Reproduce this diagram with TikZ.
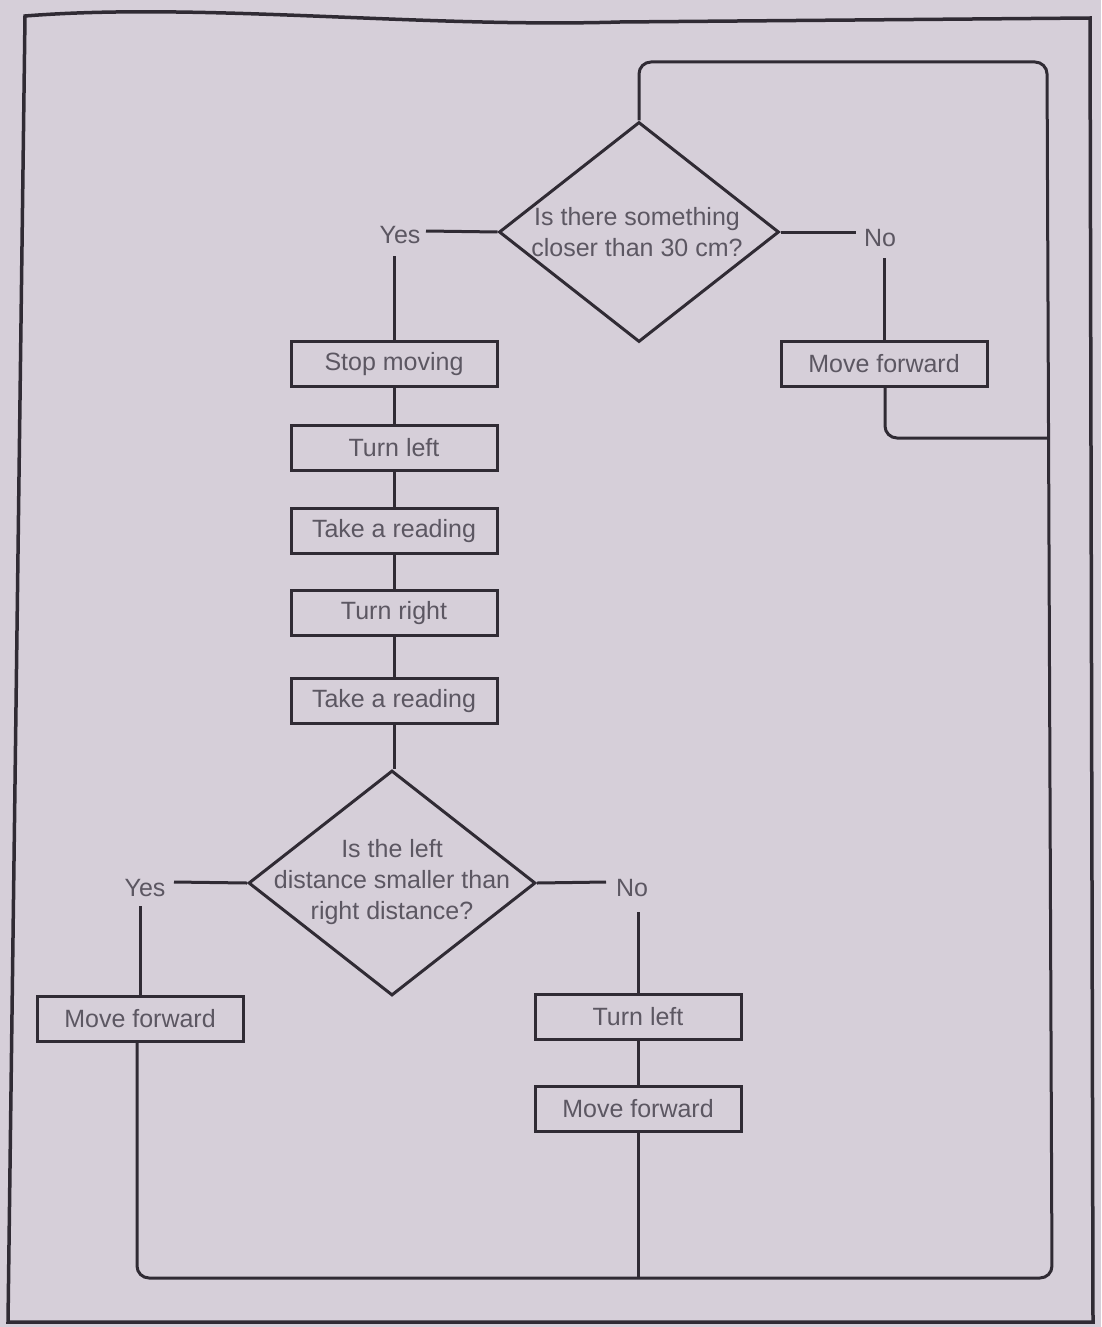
\documentclass[tikz,border=0pt]{standalone}
\usepackage{fontspec}
\setmainfont{Liberation Sans}
\usetikzlibrary{shapes.geometric}
\definecolor{paper}{RGB}{214,207,217}
\definecolor{ink}{RGB}{48,43,52}
\definecolor{txt}{RGB}{92,87,98}
\tikzset{
  ln/.style={draw=ink, line width=3pt},
  stepbox/.style={draw=ink, line width=3pt, rectangle, minimum width=206pt, minimum height=45pt, inner sep=0pt, text=txt, font=\fontsize{25}{30}\selectfont},
  decide/.style={draw=ink, line width=3pt, diamond, inner sep=0pt},
  lbl/.style={text=txt, font=\fontsize{25}{31}\selectfont, align=center, inner sep=0pt},
}
\begin{document}
\begin{tikzpicture}[x=1pt,y=-1pt]
\useasboundingbox (0,0) rectangle (1101,1327);
\fill[paper] (0,0) rectangle (1101,1327);
% outer frame
\draw[draw=ink, line width=3.5pt] (25,16) .. controls (200,2) and (420,28) .. (620,22) -- (1090,18) -- (1093,1322) -- (8,1322) -- cycle;

% top decision
\node[decide, minimum width=280pt, minimum height=220pt] (d1) at (639,232) {};
\node[lbl] (d1t) at (637,232) {Is there something\\closer than 30 cm?};
\node[lbl] (y1) at (400,235) {Yes};
\node[lbl] (n1) at (880,238) {No};

% left column
\node[stepbox] (s1) at (394,364) {Stop moving};
\node[stepbox] (s2) at (394,448) {Turn left};
\node[stepbox] (s3) at (394,531) {Take a reading};
\node[stepbox] (s4) at (394,613) {Turn right};
\node[stepbox] (s5) at (394,701) {Take a reading};

% right branch
\node[stepbox] (r1) at (884,364) {Move forward};

% bottom decision
\node[decide, minimum width=287pt, minimum height=225pt] (d2) at (392,883) {};
\node[lbl] (d2t) at (392,882) {Is the left\\distance smaller than\\right distance?};
\node[lbl] (y2) at (145,888) {Yes};
\node[lbl] (n2) at (632,888) {No};

\node[stepbox] (l1) at (140,1019) {Move forward};
\node[stepbox] (m1) at (638,1017) {Turn left};
\node[stepbox] (m2) at (638,1109) {Move forward};

% free ends next to the labels
\coordinate (y1r) at (426,231);
\coordinate (y1d) at (394,256);
\coordinate (n1l) at (856,232);
\coordinate (n1d) at (884,258);
\coordinate (y2r) at (174,882);
\coordinate (y2d) at (140,906);
\coordinate (n2l) at (606,882);
\coordinate (n2d) at (638,912);

% coordinates for loop
\coordinate (tl) at (639,62);
\coordinate (tr) at (1047,62);
\coordinate (br) at (1052,1278);
\coordinate (bl) at (137,1278);
\coordinate (bm) at (638,1278);
\coordinate (rj) at (885,438);
\coordinate (rr) at (1048,438);

% connectors top
\draw[ln] (y1r) -- (d1.west);
\draw[ln] (d1.east) -- (n1l);
\draw[ln] (y1d) -- (s1.north);
\draw[ln] (n1d) -- (r1.north);
\draw[ln] (s1) -- (s2);
\draw[ln] (s2) -- (s3);
\draw[ln] (s3) -- (s4);
\draw[ln] (s4) -- (s5);
\draw[ln] (s5.south) -- (s5.south |- d2.north);

% loop
\draw[ln, rounded corners=12pt] (d1.north) -- (tl) -- (tr) -- (br) -- (bl) -- (l1.south -| bl);
\draw[ln, rounded corners=12pt] (r1.south -| rj) -- (rj) -- (rr);
\draw[ln] (m2.south) -- (bm);

% connectors bottom
\draw[ln] (y2r) -- (d2.west);
\draw[ln] (d2.east) -- (n2l);
\draw[ln] (y2d) -- (l1.north);
\draw[ln] (n2d) -- (m1.north);
\draw[ln] (m1) -- (m2);
\end{tikzpicture}
\end{document}
